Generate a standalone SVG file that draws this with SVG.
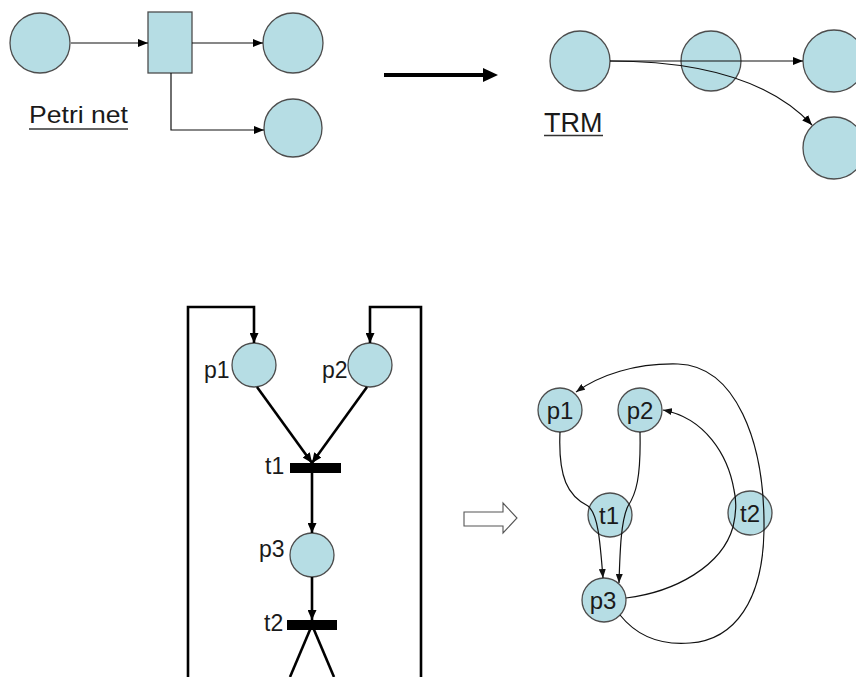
<svg xmlns="http://www.w3.org/2000/svg" width="856" height="677" viewBox="0 0 856 677">
<defs>
<style>
.node{fill:#b6dde4;stroke:#4d4d4d;stroke-width:1.3}
.thin{fill:none;stroke:#111;stroke-width:1.2}
.thick{fill:none;stroke:#000;stroke-width:2.6}
.lbl{font-family:"Liberation Sans",Arial,sans-serif;fill:#1a1a1a}
.bar{fill:#000}
</style>
<marker id="ah" markerUnits="userSpaceOnUse" markerWidth="10" markerHeight="8" refX="10" refY="4" orient="auto">
<path d="M0,0 L10,4 L0,8 z" fill="#000"/>
</marker>
<marker id="ahs" markerUnits="userSpaceOnUse" markerWidth="9" markerHeight="7" refX="9" refY="3.5" orient="auto">
<path d="M0,0 L9,3.5 L0,7 z" fill="#111"/>
</marker>
<marker id="ahb" markerUnits="userSpaceOnUse" markerWidth="10" markerHeight="9" refX="10" refY="4.5" orient="auto">
<path d="M0,0 L10,4.5 L0,9 z" fill="#000"/>
</marker>
</defs>
<rect width="856" height="677" fill="#fff"/>

<!-- Petri net (top-left) -->
<g id="pn-in"><circle class="node" cx="40" cy="43" r="30"/></g>
<g id="pn-trans"><rect class="node" x="148" y="12" width="44" height="61"/></g>
<g id="pn-out1"><circle class="node" cx="293" cy="43" r="30"/></g>
<g id="pn-out2"><circle class="node" cx="293" cy="128" r="29"/></g>
<g id="pn-label">
<text class="lbl" x="29" y="123" font-size="24.5" textLength="99" lengthAdjust="spacingAndGlyphs">Petri net</text>
<line x1="29" y1="129" x2="128" y2="129" stroke="#333" stroke-width="1.5"/>
</g>

<!-- TRM (top-right) -->
<g id="trm-a"><circle class="node" cx="580" cy="61" r="30"/></g>
<g id="trm-b"><circle class="node" cx="711" cy="61" r="30"/></g>
<g id="trm-c"><circle class="node" cx="834" cy="61" r="31"/></g>
<g id="trm-d"><circle class="node" cx="834" cy="148" r="31"/></g>
<g id="trm-label">
<text class="lbl" x="544" y="132" font-size="27">TRM</text>
<line x1="544" y1="135.5" x2="603" y2="135.5" stroke="#333" stroke-width="1.5"/>
</g>

<!-- Big arrow -->
<g id="big-arrow">
<line x1="384" y1="75" x2="486" y2="75" stroke="#000" stroke-width="4"/>
<polygon points="483,68 498,75 483,82" fill="#000"/>
</g>

<!-- Bottom-left Petri net -->
<g id="bl-p1"><circle class="node" cx="254" cy="365" r="22"/><text class="lbl" x="204" y="378" font-size="23">p1</text></g>
<g id="bl-p2"><circle class="node" cx="370" cy="365" r="22"/><text class="lbl" x="322" y="378" font-size="23">p2</text></g>
<g id="bl-t1"><rect class="bar" x="290" y="463" width="51" height="10"/><text class="lbl" x="265" y="474" font-size="23">t1</text></g>
<g id="bl-p3"><circle class="node" cx="312" cy="555" r="22"/><text class="lbl" x="259" y="557" font-size="23">p3</text></g>
<g id="bl-t2"><rect class="bar" x="287" y="620" width="50" height="10"/><text class="lbl" x="264" y="631" font-size="23">t2</text></g>

<!-- Hollow arrow -->
<g id="hollow-arrow">
<polygon points="464,512 503,512 503,503 517,518 503,533 503,526 464,526" fill="#fff" stroke="#555" stroke-width="1.1"/>
</g>

<!-- Bottom-right TRM -->
<g id="br-p1"><circle class="node" cx="560" cy="410" r="22"/><text class="lbl" x="560" y="419" font-size="24" text-anchor="middle">p1</text></g>
<g id="br-p2"><circle class="node" cx="640" cy="410" r="22"/><text class="lbl" x="640" y="419" font-size="24" text-anchor="middle">p2</text></g>
<g id="br-t1"><circle class="node" cx="610" cy="515" r="22"/><text class="lbl" x="609" y="524" font-size="24" text-anchor="middle">t1</text></g>
<g id="br-t2"><circle class="node" cx="750" cy="513" r="22"/><text class="lbl" x="750" y="522" font-size="24" text-anchor="middle">t2</text></g>
<g id="br-p3"><circle class="node" cx="604" cy="600" r="22"/><text class="lbl" x="603" y="609" font-size="24" text-anchor="middle">p3</text></g>

<!-- Connectors -->
<g id="connectors">
<!-- top-left -->
<path class="thin" d="M71,43 L148,43" marker-end="url(#ah)"/>
<path class="thin" d="M192,43 L263,43" marker-end="url(#ah)"/>
<path class="thin" d="M171,73 L171,130 L264,130" marker-end="url(#ah)"/>
<!-- TRM -->
<path class="thin" d="M610,61 L803,61" marker-end="url(#ah)"/>
<path class="thin" d="M610,61 C700,61 770,80 812,125" marker-end="url(#ah)"/>
<!-- bottom-left -->
<path class="thick" d="M188,677 L188,307 L254,307 L254,343" marker-end="url(#ahb)"/>
<path class="thick" d="M421,677 L421,307 L370,307 L370,343" marker-end="url(#ahb)"/>
<path class="thick" d="M257,387 L312,463" marker-end="url(#ahb)"/>
<path class="thick" d="M367,387 L312,463" marker-end="url(#ahb)"/>
<path class="thick" d="M312,473 L312,533" marker-end="url(#ahb)"/>
<path class="thick" d="M312,577 L312,620" marker-end="url(#ahb)"/>
<path class="thick" d="M312,625 L290,677"/>
<path class="thick" d="M312,625 L334,677"/>
<!-- bottom-right -->
<path class="thin" d="M560,432 C558,478 568,496 588,506 C598,514 600,540 603,578" marker-end="url(#ahs)"/>
<path class="thin" d="M640,432 C641,478 636,494 628,506 C621,520 620,550 619,583" marker-end="url(#ahs)"/>
<path class="thin" d="M626,598 C675,592 722,566 733,527 C737,510 736,498 734,490 C728,455 705,418 663,410" marker-end="url(#ahs)"/>
<path class="thin" d="M620,615 C640,640 665,645 690,643 C735,640 763,600 764,530 C765,440 735,366 678,364 C635,363 600,375 576,392" marker-end="url(#ahs)"/>
</g>
</svg>
